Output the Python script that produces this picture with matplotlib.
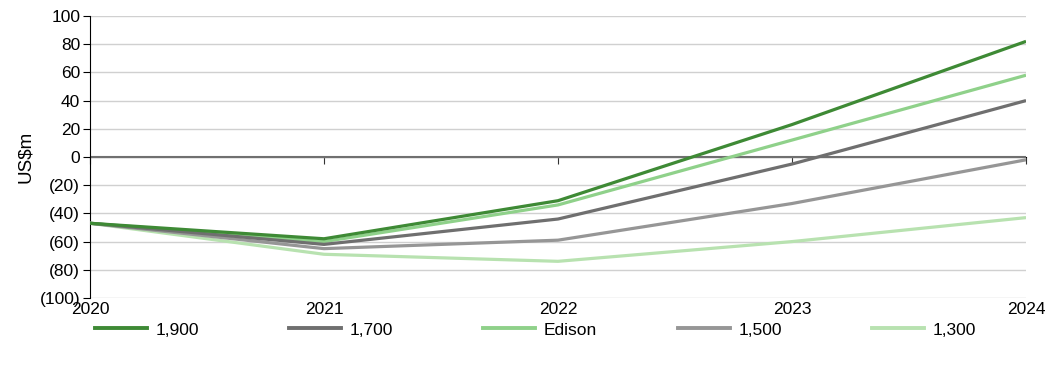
import numpy as np
import matplotlib.pyplot as plt
from matplotlib.lines import Line2D

# Dados
anos = [2020, 2021, 2022, 2023, 2024]
s1900 = [-47, -58, -31, 23, 82]
s1700 = [-47, -62, -44, -5, 40]
edison = [-47, -60, -34, 12, 58]
s1500 = [-47, -65, -59, -33, -2]
s1300 = [-47, -69, -74, -60, -43]
rotulos = ['1,900', '1,700', 'Edison', '1,500', '1,300']
cores = ['#3e8a35', '#6f6f6f', '#8fd18a', '#969696', '#b8e2b0']

plt.rcParams['font.family'] = ['Liberation Sans', 'DejaVu Sans']
plt.rcParams['font.size'] = 12.5

fig = plt.figure(figsize=(10.57, 3.65), dpi=100)
ax = fig.add_axes([0.0851, 0.1836, 0.8856, 0.7726])

series = [s1900, s1700, edison, s1500, s1300]
# desenha de trás para frente para a linha escura ficar por cima
for serie, cor, rot in list(zip(series, cores, rotulos))[::-1]:
    ax.plot(anos, serie, color=cor, lw=2.3, label=rot, solid_capstyle='butt', zorder=3)

ax.set_xlim(2020, 2024)
ax.set_ylim(-100, 100)
ax.set_yticks(np.arange(-100, 101, 20))
ax.set_yticklabels(['(%d)' % -v if v < 0 else '%d' % v for v in range(-100, 101, 20)])
ax.set_xticks(anos)
ax.set_xticklabels([str(a) for a in anos])
ax.grid(axis='y', color='#d0d0d0', lw=1)
ax.set_axisbelow(True)

for lado in ['top', 'right', 'bottom']:
    ax.spines[lado].set_visible(False)
ax.spines['left'].set_color('black')
ax.tick_params(axis='y', length=5, color='black', pad=2)
ax.tick_params(axis='x', length=0, pad=3)

# linha do zero com marcas
ax.axhline(0, color='#707070', lw=1.5, zorder=2)
sec = ax.secondary_xaxis(0.5)
sec.set_xticks(anos)
sec.set_xticklabels([])
sec.tick_params(length=5, color='#333333', direction='in')
sec.spines['bottom'].set_visible(False)

ax.set_ylabel('US$m', fontsize=13.5, labelpad=4)

# legenda com espaçamento fixo
pos_leg = [95, 289, 483, 678, 872]
for cor, rot, px in zip(cores, rotulos, pos_leg):
    fig.legend([Line2D([], [], color=cor, lw=2.8)], [rot], loc='center left',
               bbox_to_anchor=(px / 1057, 0.096), frameon=False, borderpad=0,
               borderaxespad=0, handlelength=3.0, handletextpad=0.5)

fig.savefig('out.png', dpi=100)
